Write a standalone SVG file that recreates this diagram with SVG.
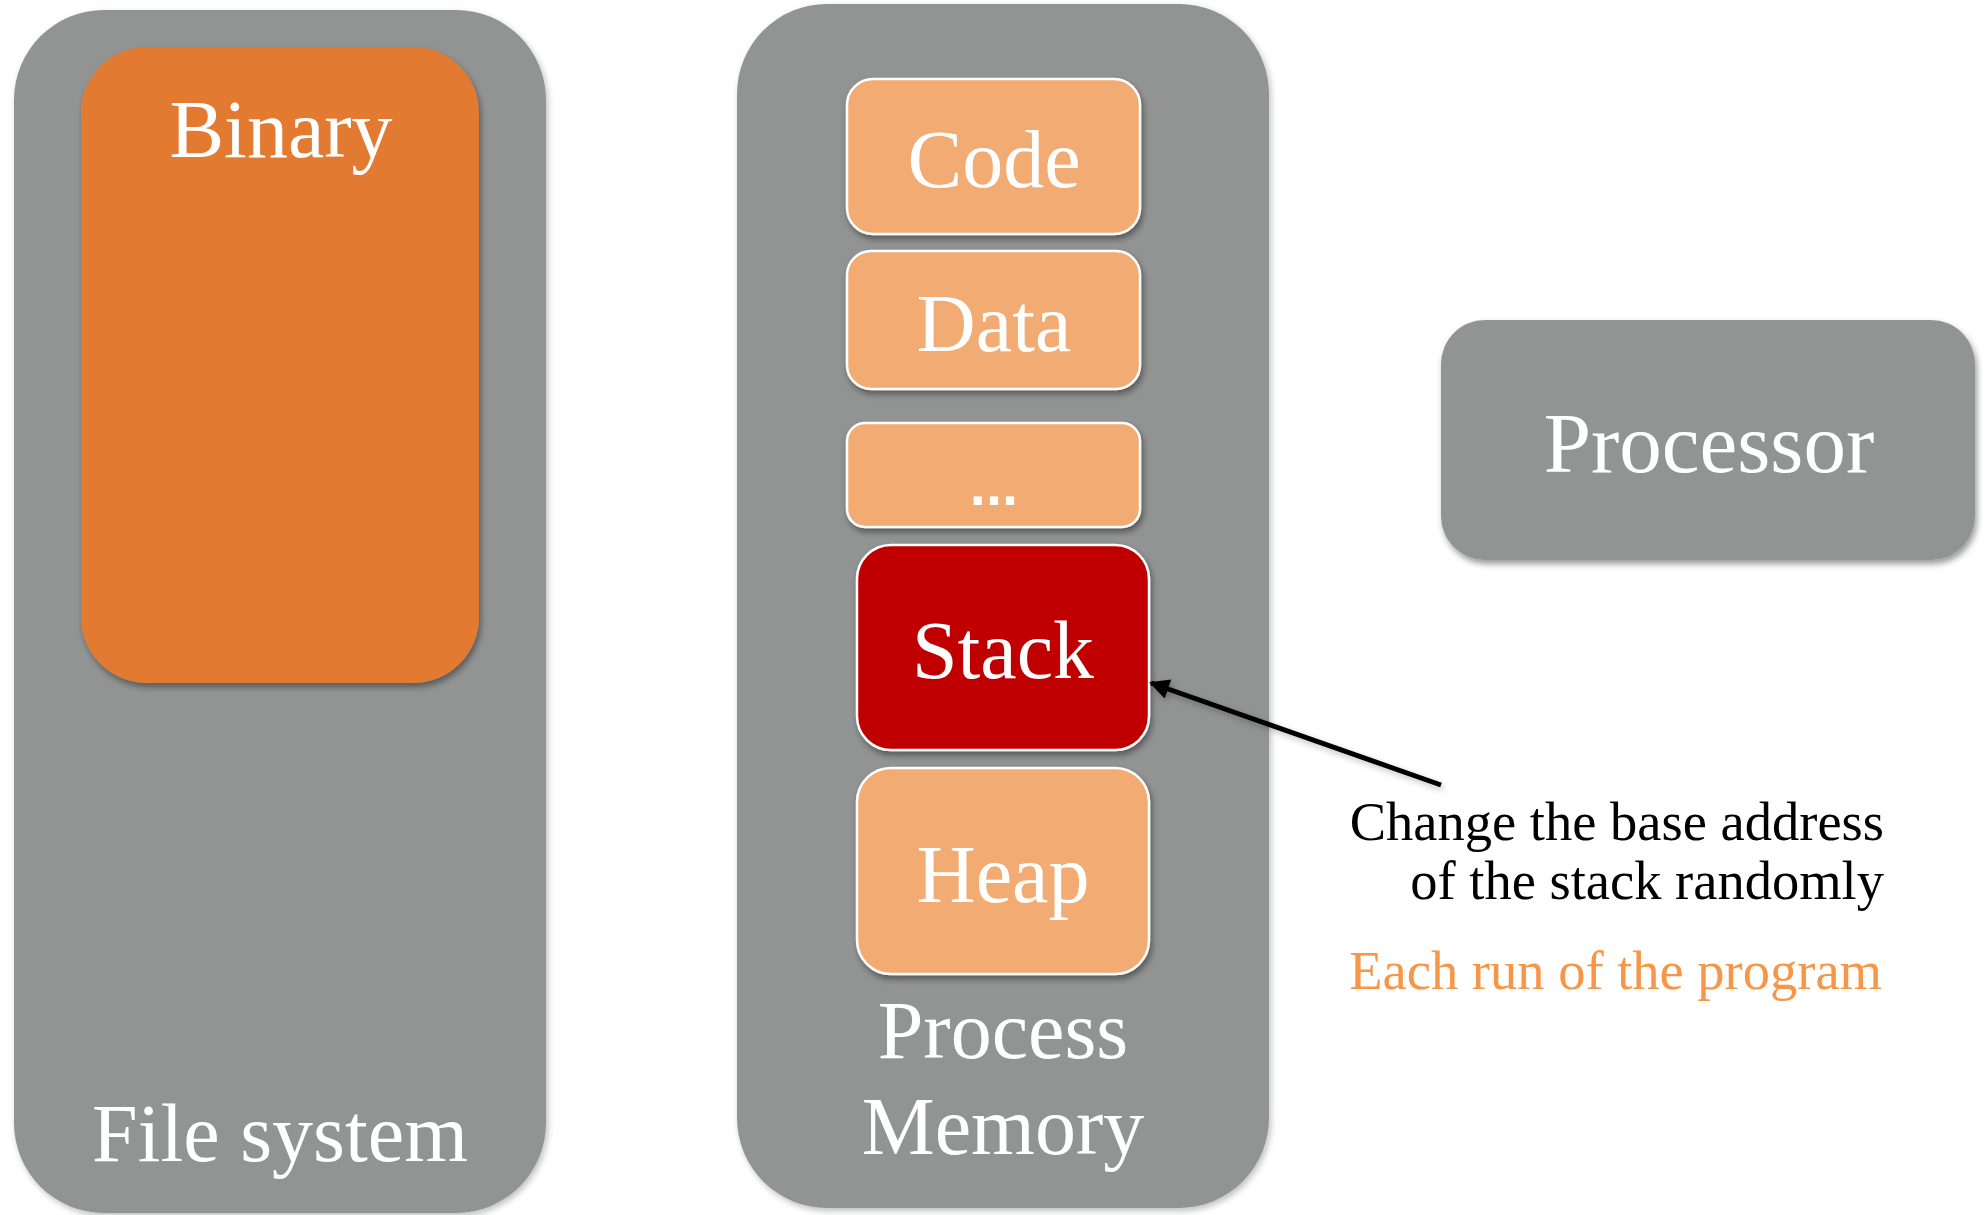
<svg xmlns="http://www.w3.org/2000/svg" width="1986" height="1215" viewBox="0 0 1986 1215">
  <style>
    .panel { fill: #929493; }
    .seg { fill: #F2AB72; stroke: #FFFFFF; stroke-width: 2.5; }
    .stack { fill: #C00000; stroke: #FFFFFF; stroke-width: 2.5; }
    .big { font-family: "Liberation Serif", "Times New Roman", serif; font-size: 82px; fill: #FFFFFF; text-anchor: middle; }
    .note { font-family: "Liberation Serif", "Times New Roman", serif; font-size: 54.5px; text-anchor: end; }
  </style>
  <defs>
    <filter id="sh" x="-10%" y="-10%" width="130%" height="130%">
      <feDropShadow dx="2" dy="4" stdDeviation="3" flood-color="#000000" flood-opacity="0.4"/>
    </filter>
    <filter id="shl" x="-10%" y="-10%" width="130%" height="130%">
      <feDropShadow dx="2" dy="3" stdDeviation="3" flood-color="#000000" flood-opacity="0.25"/>
    </filter>
    <marker id="arr" viewBox="0 0 10 10" refX="9" refY="5" markerWidth="4.5" markerHeight="4" orient="auto" markerUnits="strokeWidth">
      <path d="M0,0 L10,5 L0,10 z" fill="#000000"/>
    </marker>
  </defs>

  <g id="file-system">
    <rect class="panel" x="14" y="10" width="532" height="1203" rx="90" ry="90" filter="url(#shl)"/>
    <text class="big" x="280" y="1161">File system</text>
  </g>

  <g id="binary">
    <rect x="81" y="47" width="398" height="636" rx="66" ry="66" fill="#E37A32" filter="url(#sh)"/>
    <text class="big" x="281" y="157">Binary</text>
  </g>

  <g id="process-memory">
    <rect class="panel" x="737" y="4" width="532" height="1204" rx="90" ry="90" filter="url(#shl)"/>
    <text class="big" x="1003" y="1058">Process</text>
    <text class="big" x="1003" y="1154">Memory</text>
  </g>

  <g id="code">
    <rect class="seg" x="847" y="79" width="293" height="155" rx="26" ry="26" filter="url(#sh)"/>
    <text class="big" x="994" y="187">Code</text>
  </g>

  <g id="data">
    <rect class="seg" x="847" y="251" width="293" height="138" rx="24" ry="24" filter="url(#sh)"/>
    <text class="big" x="994" y="351">Data</text>
  </g>

  <g id="etc">
    <rect class="seg" x="847" y="423" width="293" height="104" rx="18" ry="18" filter="url(#sh)"/>
    <text class="big" x="994" y="505" style="font-family:'Liberation Sans', Arial, sans-serif;font-weight:bold;font-size:58px">...</text>
  </g>

  <g id="stack">
    <rect class="stack" x="857" y="545" width="292" height="205" rx="34" ry="34" filter="url(#sh)"/>
    <text class="big" x="1003" y="678">Stack</text>
  </g>

  <g id="heap">
    <rect class="seg" x="857" y="768" width="292" height="206" rx="34" ry="34" filter="url(#sh)"/>
    <text class="big" x="1003" y="902">Heap</text>
  </g>

  <g id="processor">
    <rect class="panel" x="1441" y="320" width="534" height="240" rx="44" ry="44" filter="url(#sh)"/>
    <text class="big" x="1709" y="472" style="font-size:85px">Processor</text>
  </g>

  <g id="connectors">
    <line x1="1441" y1="785" x2="1151" y2="683" stroke="#000000" stroke-width="5" marker-end="url(#arr)" filter="url(#shl)"/>
  </g>

  <g id="annotation">
    <text class="note" x="1884" y="840" fill="#000000">Change the base address</text>
    <text class="note" x="1884" y="899" fill="#000000">of the stack randomly</text>
    <text class="note" x="1882" y="989" fill="#F79646">Each run of the program</text>
  </g>
</svg>
